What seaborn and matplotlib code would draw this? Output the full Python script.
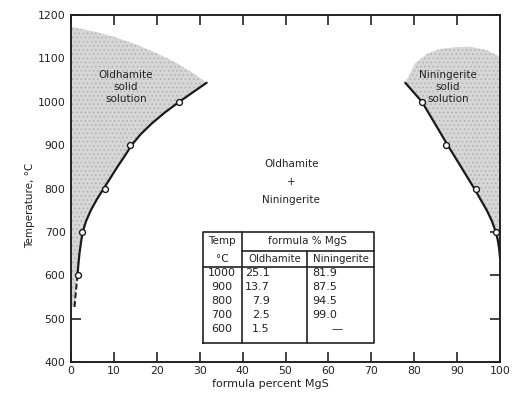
import numpy as np
import pandas as pd
import matplotlib
matplotlib.use("Agg")
import matplotlib.pyplot as plt
import seaborn as sns

# Measured solvus compositions (formula % MgS) at each temperature
temps = [1000, 900, 800, 700, 600]
oldhamite_mgs = [25.1, 13.7, 7.9, 2.5, 1.5]
niningerite_mgs = [81.9, 87.5, 94.5, 99.0, None]

# Drawn solvus boundaries (temperature vs composition)
old_curve_x = [1.5, 1.7, 1.95, 2.3, 2.7, 3.5, 4.6, 6.0, 7.6, 9.2, 10.8, 12.5,
               14.1, 16.2, 18.8, 21.8, 25.2, 28.4, 31.6]
old_curve_t = [600, 625, 650, 675, 700, 725, 750, 775, 800, 825, 850, 875,
               900, 925, 950, 975, 1000, 1022, 1044]
old_low_x = [0.8, 1.1, 1.5]
old_low_t = [527, 560, 600]
nin_curve_x = [77.9, 81.8, 84.8, 87.8, 90.9, 94.0, 96.9, 98.1, 99.0, 99.5, 99.8, 100.0]
nin_curve_t = [1044, 1000, 950, 900, 850, 800, 750, 725, 700, 680, 660, 640]

# Upper limits of the solid-solution fields
old_top_x = [31.6, 28, 24, 20, 15, 10, 5, 0]
old_top_t = [1044, 1069, 1093, 1112, 1133, 1150, 1163, 1173]
nin_top_x = [100, 97, 93, 89.5, 86, 83.2, 80.2, 77.9]
nin_top_t = [1104, 1119, 1127, 1126, 1122, 1112, 1089, 1044]

sns.set_theme(style="ticks")
plt.rcParams["font.family"] = ["DejaVu Sans"]
plt.rcParams["hatch.linewidth"] = 0.6

fig = plt.figure(figsize=(5.15, 3.97), dpi=100)
ax = fig.add_axes([0.138, 0.088, 0.833, 0.874])

shade = "#d6d6d6"
hatch_col = "#b0b0b0"

# Oldhamite solid-solution field
ox = [0] + old_low_x + old_curve_x[1:] + old_top_x[1:]
ot = [old_low_t[0]] + old_low_t + old_curve_t[1:] + old_top_t[1:]
ax.fill(ox, ot, facecolor=shade, edgecolor=hatch_col, hatch="....", lw=0, zorder=1)

# Niningerite solid-solution field
nx = nin_curve_x + nin_top_x
nt = nin_curve_t + nin_top_t
ax.fill(nx, nt, facecolor=shade, edgecolor=hatch_col, hatch="....", lw=0, zorder=1)

# Solvus curves
sns.lineplot(x=old_curve_x, y=old_curve_t, sort=False, estimator=None,
             color="#1a1a1a", lw=1.6, ax=ax, zorder=3)
sns.lineplot(x=old_low_x, y=old_low_t, sort=False, estimator=None,
             color="#1a1a1a", lw=1.4, ax=ax, zorder=3, linestyle=(0, (3, 1.5)))
sns.lineplot(x=nin_curve_x, y=nin_curve_t, sort=False, estimator=None,
             color="#1a1a1a", lw=1.6, ax=ax, zorder=3)

# Measured points
pts = pd.DataFrame({
    "T": temps * 2,
    "MgS": oldhamite_mgs + niningerite_mgs,
}).dropna()
sns.scatterplot(data=pts, x="MgS", y="T", marker="o", s=18, facecolor="white",
                edgecolor="#1a1a1a", linewidth=1.0, ax=ax, zorder=4)

ax.set_xlim(0, 100)
ax.set_ylim(400, 1200)
ax.set_xticks(range(0, 101, 10))
ax.set_yticks(range(400, 1201, 100))
ax.tick_params(direction="in", length=7, width=1.2, top=True, right=True,
               labelsize=7.8, colors="#222222", pad=4)
ax.tick_params(axis="x", pad=2.5)
for sp in ax.spines.values():
    sp.set_linewidth(1.4)
    sp.set_color("#222222")

ax.set_xlabel("formula percent MgS", fontsize=8, color="#222222")
ax.xaxis.set_label_coords(0.464, -0.048)
ax.set_ylabel("Temperature, °C", fontsize=7.5, color="#222222")
ax.yaxis.set_label_coords(-0.083, 0.452)

# Field labels
ax.text(12.8, 1034, "Oldhamite\nsolid\nsolution", ha="center", va="center",
        fontsize=7.5, linespacing=1.25, color="#222222", zorder=5)
ax.text(87.9, 1034, "Niningerite\nsolid\nsolution", ha="center", va="center",
        fontsize=7.5, linespacing=1.25, color="#222222", zorder=5)
ax.text(51.3, 815, "Oldhamite\n+\nNiningerite", ha="center", va="center",
        fontsize=7.5, linespacing=2.0, color="#222222", zorder=5)

# Data table
tr = ax.transAxes
x0, x1, x2, x3 = 0.308, 0.398, 0.551, 0.706
y0, y1, y2, y3 = 0.0556, 0.2746, 0.320, 0.3755
lw = 1.2
tc = "#222222"
for xs, ys in [([x0, x3, x3, x0, x0], [y0, y0, y3, y3, y0]),
               ([x1, x1], [y0, y3]),
               ([x2, x2], [y0, y2]),
               ([x1, x3], [y2, y2]),
               ([x0, x3], [y1, y1])]:
    ax.plot(xs, ys, transform=tr, color=tc, lw=lw, zorder=5, clip_on=False)

ax.text(0.352, 0.350, "Temp", transform=tr, ha="center", va="center", fontsize=7.5, color=tc)
ax.text(0.352, 0.298, "°C", transform=tr, ha="center", va="center", fontsize=7.5, color=tc)
ax.text(0.552, 0.349, "formula % MgS", transform=tr, ha="center", va="center", fontsize=7.5, color=tc)
ax.text(0.474, 0.297, "Oldhamite", transform=tr, ha="center", va="center", fontsize=7.3, color=tc)
ax.text(0.629, 0.297, "Niningerite", transform=tr, ha="center", va="center", fontsize=7.3, color=tc)

row_y = [0.2565, 0.216, 0.176, 0.135, 0.095]
for ry, t, o, n in zip(row_y, temps, oldhamite_mgs, niningerite_mgs):
    ax.text(0.352, ry, f"{t}", transform=tr, ha="center", va="center", fontsize=8, color=tc)
    ax.text(0.463, ry, f"{o:.1f}", transform=tr, ha="right", va="center", fontsize=8, color=tc)
    ax.text(0.621, ry, f"{n:.1f}" if n is not None else "—", transform=tr,
            ha="right" if n is not None else "center", va="center", fontsize=8, color=tc)

fig.savefig("out.png", dpi=100)
